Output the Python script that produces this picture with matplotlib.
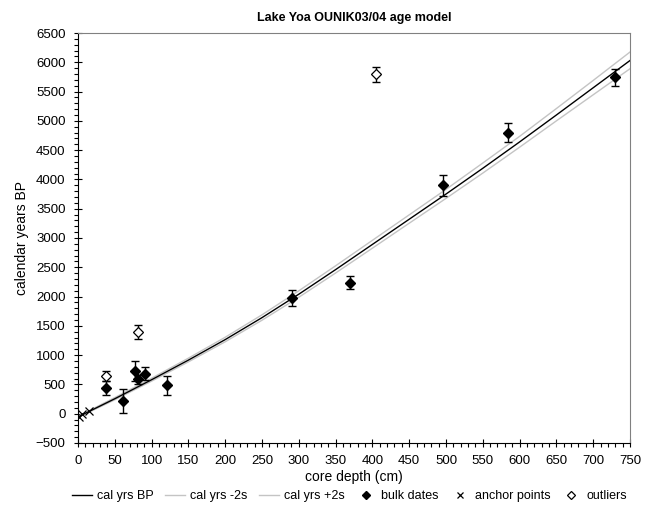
import matplotlib
matplotlib.use('Agg')
import matplotlib.pyplot as plt
from matplotlib.ticker import MultipleLocator

plt.rcParams['font.family'] = ['Liberation Sans', 'DejaVu Sans']
plt.rcParams['font.size'] = 9

# Age model (every 50 cm)
model_depth = [0, 50, 100, 150, 200, 250, 300, 350, 400, 450, 500,
               550, 600, 650, 700, 750]
model_age = [-55, 255, 580, 915, 1265, 1640, 2040, 2460, 2890, 3320, 3750,
             4190, 4640, 5100, 5565, 6030]
model_lo = [-65, 238, 556, 885, 1228, 1596, 1988, 2402, 2826, 3252, 3676,
            4108, 4550, 5000, 5445, 5890]
model_hi = [-45, 275, 605, 948, 1305, 1688, 2098, 2525, 2960, 3395, 3830,
            4280, 4735, 5210, 5690, 6175]

# Radiocarbon bulk dates
bulk_depth = [38, 61, 77, 81, 91, 121, 291, 369, 496, 584, 730]
bulk_age = [436, 219, 727, 584, 681, 482, 1976, 2239, 3904, 4800, 5741]
bulk_err = [125, 210, 170, 80, 110, 155, 135, 115, 180, 163, 145]

# Anchor points (core top)
anchor_depth = [1, 6, 15]
anchor_age = [-54, -9, 43]

# Outliers
out_depth = [38, 81, 405]
out_age = [641, 1394, 5793]
out_err = [90, 125, 130]

fig = plt.figure(figsize=(6.51, 5.11), dpi=100)
ax = fig.add_axes([0.1198, 0.1331, 0.8479, 0.8023])

ax.plot(model_depth, model_age, color='black', lw=1.0, label='cal yrs BP', zorder=3)
ax.plot(model_depth, model_lo, color='#c4c4c4', lw=1.0, label='cal yrs -2s', zorder=2)
ax.plot(model_depth, model_hi, color='#c4c4c4', lw=1.0, label='cal yrs +2s', zorder=2)

ax.errorbar(bulk_depth, bulk_age, yerr=bulk_err, fmt='none', ecolor='black',
            elinewidth=1.0, capsize=3, capthick=1.0, zorder=4)
ax.plot(bulk_depth, bulk_age, 'D', color='black', ms=5, ls='none',
        label='bulk dates', zorder=5)
ax.plot(anchor_depth, anchor_age, 'x', color='black', ms=6, mew=0.9, ls='none',
        label='anchor points', zorder=5)
ax.errorbar(out_depth, out_age, yerr=out_err, fmt='none', ecolor='black',
            elinewidth=1.0, capsize=3, capthick=1.0, zorder=4)
ax.plot(out_depth, out_age, 'D', mfc='white', mec='black', mew=0.9, ms=5,
        ls='none', label='outliers', zorder=5)

ax.set_xlim(0, 750)
ax.set_ylim(-500, 6500)
ax.xaxis.set_major_locator(MultipleLocator(50))
ax.xaxis.set_minor_locator(MultipleLocator(10))
ax.yaxis.set_major_locator(MultipleLocator(500))
ax.yaxis.set_minor_locator(MultipleLocator(100))
ax.tick_params(which='major', direction='inout', length=6, width=0.8, pad=6,
               labelsize=9.5)
ax.tick_params(which='minor', direction='out', length=3, width=0.8)

for side in ('top', 'right'):
    ax.spines[side].set_color('#808080')
for side in ('left', 'bottom'):
    ax.spines[side].set_color('black')

ax.set_title('Lake Yoa OUNIK03/04 age model', fontsize=9, fontweight='bold', pad=9)
ax.set_xlabel('core depth (cm)', fontsize=10, labelpad=2)
ax.set_ylabel('calendar years BP', fontsize=10, labelpad=5)

fig.legend(loc='lower center', bbox_to_anchor=(0.537, -0.005), ncol=6,
           frameon=False, fontsize=9, handlelength=1.6, handletextpad=0.4,
           columnspacing=0.9, markerscale=0.8)

fig.savefig('out.png', dpi=100)
